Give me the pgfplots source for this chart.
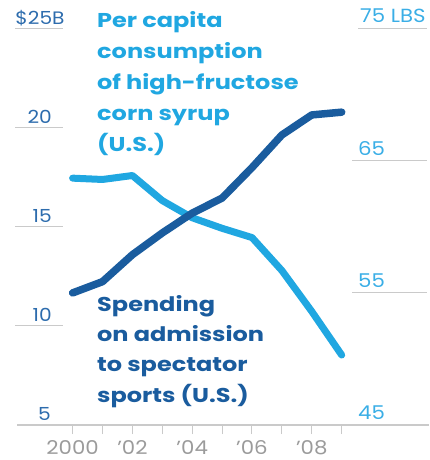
\documentclass[border=0pt]{standalone}
\usepackage{fontspec}
\setmainfont{Poppins}[FakeStretch=1.12]
\newfontfamily\annfont{Poppins}[FakeStretch=1.2]
\usepackage{pgfplots}
\pgfplotsset{compat=1.18}
\definecolor{darkb}{HTML}{1A5C9E}
\definecolor{lightb}{HTML}{20A7E1}
\definecolor{lab}{HTML}{2D6CAD}
\definecolor{rlab}{HTML}{3AAEE6}
\definecolor{gridc}{HTML}{CACACA}
\definecolor{yearc}{HTML}{9B9B9B}
\begin{document}
\begin{tikzpicture}[x=1pt,y=1pt]
% HFCS consumption (right scale, lbs)
\begin{axis}[at={(17pt,35pt)}, anchor=south west, scale only axis,
  width=412pt, height=396pt,
  xmin=1998.14, xmax=2011.92, ymin=45, ymax=75, clip=false,
  axis lines=none, xtick=\empty, ytick=\empty]
\addplot[lightb, line width=7pt, line join=round, line cap=round] coordinates {
(2000,63.7) (2001,63.6) (2002,63.9) (2003,62.0) (2004,60.7)
(2005,59.9) (2006,59.2) (2007,56.7) (2008,53.6) (2009,50.3)};
\end{axis}
% Spending on admission (left scale, $B)
\begin{axis}[at={(17pt,35pt)}, anchor=south west, scale only axis,
  width=412pt, height=396pt,
  xmin=1998.14, xmax=2011.92, ymin=5, ymax=25, clip=false,
  axis x line=bottom, axis y line=none,
  x axis line style={-, gridc, line width=1.2pt},
  xtick={2000,...,2009},
  xticklabels={2000,,’02,,’04,,’06,,’08,},
  tick style={gridc, line width=1pt}, major tick length=9pt, tick align=outside,
  xticklabel style={font=\fontsize{19}{19}\selectfont, text=yearc, inner sep=0pt, yshift=-6pt},
  ytick=\empty]
\addplot[darkb, line width=7.5pt, line join=round, line cap=round] coordinates {
(2000,11.67) (2001,12.24) (2002,13.6) (2003,14.7) (2004,15.7)
(2005,16.46) (2006,18.0) (2007,19.65) (2008,20.66) (2009,20.8)};
\end{axis}
% left scale labels
\foreach \yy in {134,233,332,431} {\draw[gridc, line width=1pt] (15,\yy) -- (63,\yy);}
\begin{scope}[every node/.style={text=lab, font=\fontsize{18}{18}\selectfont, inner sep=0pt}]
\node[anchor=base east] at (51,39) {5};
\node[anchor=base east] at (52,138) {10};
\node[anchor=base east] at (52,237) {15};
\node[anchor=base east] at (52,336) {20};
\node[anchor=base] at (40,435) {\$25B};
\end{scope}
% right scale labels
\draw[gridc, line width=1pt] (352,167) -- (427,167);
\draw[gridc, line width=1pt] (352,299) -- (427,299);
\draw[gridc, line width=1pt] (358,431) -- (427,431);
\begin{scope}[every node/.style={text=rlab, font=\fontsize{19}{19}\selectfont, inner sep=0pt}]
\node[anchor=base west] at (358,40) {45};
\node[anchor=base west] at (358,172) {55};
\node[anchor=base west] at (358,304) {65};
\node[anchor=base west] at (360,437) {75 LBS};
\end{scope}
% annotations
\begin{scope}[every node/.style={anchor=base west, inner sep=0pt, font=\annfont\fontsize{20}{20}\bfseries\selectfont}]
\node[text=lightb] at (97,432) {Per capita};
\node[text=lightb] at (97,401) {consumption};
\node[text=lightb] at (97,370) {of high-fructose};
\node[text=lightb] at (97,339) {corn syrup};
\node[text=lightb] at (97,308) {(U.S.)};
\node[text=darkb] at (97,148) {Spending};
\node[text=darkb] at (97,118) {on admission};
\node[text=darkb] at (97,88) {to spectator};
\node[text=darkb] at (97,57) {sports (U.S.)};
\end{scope}
\pgfresetboundingbox
\useasboundingbox (0,0) rectangle (429,460);
\end{tikzpicture}
\end{document}
